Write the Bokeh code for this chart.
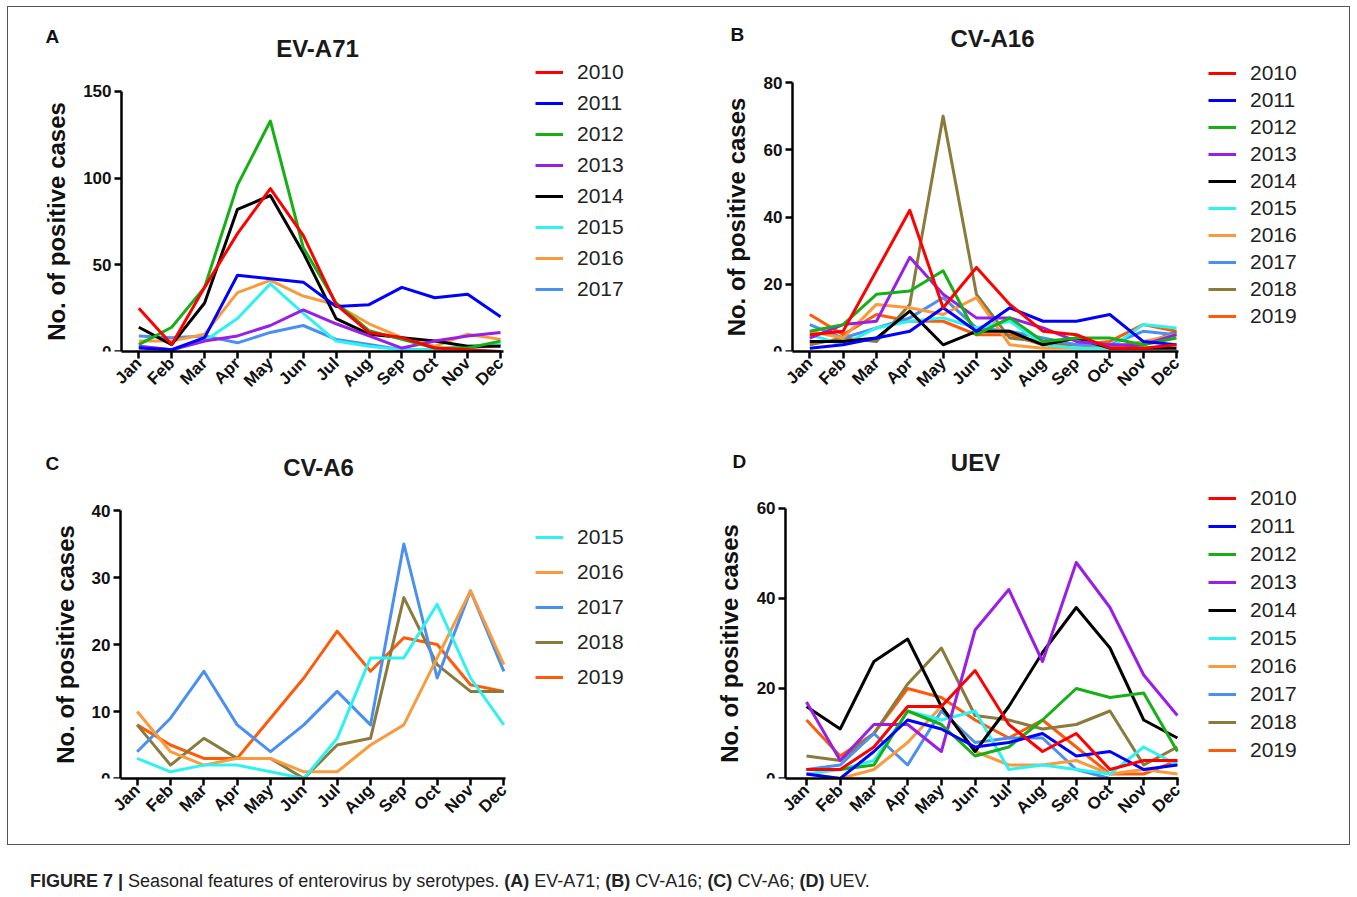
import numpy as np
from bokeh.plotting import figure
from bokeh.models import Range1d, FixedTicker, Legend, LegendItem, Label, Div
from bokeh.layouts import column, row
from bokeh.embed import file_html
from bokeh.resources import INLINE

months = ["Jan", "Feb", "Mar", "Apr", "May", "Jun", "Jul", "Aug", "Sep", "Oct", "Nov", "Dec"]

# Panel A: EV-A71
a_2010 = [25, 4, 37, 68, 94, 67, 27, 11, 8, 2, 1, 0]
a_2011 = [2, 1, 8, 44, 42, 40, 26, 27, 37, 31, 33, 20]
a_2012 = [4, 14, 37, 96, 133, 60, 28, 12, 7, 2, 2, 6]
a_2013 = [3, 1, 6, 9, 15, 24, 16, 9, 2, 6, 9, 11]
a_2014 = [14, 4, 28, 82, 90, 57, 19, 10, 8, 6, 3, 3]
a_2015 = [3, 1, 6, 19, 39, 22, 6, 3, 1, 1, 3, 4]
a_2016 = [6, 6, 10, 34, 41, 32, 27, 16, 8, 3, 10, 7]
a_2017 = [9, 8, 9, 5, 11, 15, 7, 4, 1, 1, 2, 4]

# Panel B: CV-A16
b_2010 = [5, 6, 24, 42, 13, 25, 14, 6, 5, 1, 1, 2]
b_2011 = [1, 2, 4, 6, 13, 6, 13, 9, 9, 11, 3, 2]
b_2012 = [6, 8, 17, 18, 24, 5, 10, 3, 4, 4, 2, 4]
b_2013 = [4, 8, 9, 28, 17, 10, 10, 7, 3, 2, 2, 5]
b_2014 = [3, 3, 4, 12, 2, 6, 6, 2, 4, 1, 1, 1]
b_2015 = [5, 2, 7, 9, 10, 7, 9, 2, 1, 1, 8, 7]
b_2016 = [6, 4, 14, 13, 11, 16, 2, 1, 1, 1, 3, 5]
b_2017 = [8, 4, 7, 10, 16, 7, 6, 4, 2, 2, 6, 5]
b_2018 = [2, 4, 3, 14, 70, 17, 4, 3, 2, 1, 2, 6]
b_2019 = [11, 5, 11, 9, 9, 5, 5, 2, 2, 3, 8, 6]

# Panel C: CV-A6
c_2015 = [3, 1, 2, 2, 1, 0, 6, 18, 18, 26, 15, 8]
c_2016 = [10, 4, 2, 3, 3, 1, 1, 5, 8, 18, 28, 17]
c_2017 = [4, 9, 16, 8, 4, 8, 13, 8, 35, 15, 28, 16]
c_2018 = [8, 2, 6, 3, 3, 0, 5, 6, 27, 17, 13, 13]
c_2019 = [8, 5, 3, 3, 9, 15, 22, 16, 21, 20, 14, 13]

# Panel D: UEV
d_2010 = [2, 2, 7, 16, 16, 24, 12, 6, 10, 2, 4, 4]
d_2011 = [1, 0, 6, 13, 11, 7, 8, 10, 5, 6, 2, 3]
d_2012 = [2, 2, 3, 15, 12, 5, 7, 13, 20, 18, 19, 6]
d_2013 = [17, 4, 12, 12, 6, 33, 42, 26, 48, 38, 23, 14]
d_2014 = [16, 11, 26, 31, 16, 6, 16, 28, 38, 29, 13, 9]
d_2015 = [1, 2, 4, 15, 13, 15, 2, 3, 2, 1, 7, 3]
d_2016 = [1, 0, 2, 8, 16, 6, 3, 3, 4, 1, 2, 1]
d_2017 = [2, 3, 10, 3, 15, 8, 9, 9, 2, 0, 0, 0]
d_2018 = [5, 4, 10, 21, 29, 14, 13, 11, 12, 15, 3, 7]
d_2019 = [13, 5, 10, 20, 18, 13, 9, 13, 7, 1, 1, 4]

year_colors = {
    "2010": "#FF0000", "2011": "#0000FF", "2012": "#16B016", "2013": "#9A1FE6",
    "2014": "#000000", "2015": "#2EF2F2", "2016": "#F99B3D", "2017": "#4A90F0",
    "2018": "#8A7B3C", "2019": "#FF5A0A",
}

FONT = "Liberation Sans"


def make_panel(series, title, letter, ymax, yticks, yend, width, height, borders,
               xr, xaxis_end, leg_loc, leg_spacing, letter_xy, title_xy, ylabel_standoff):
    bl, br, bt, bb = borders
    xstart, xend, ystart_loc = xr
    p = figure(width=width, height=height, output_backend="svg", toolbar_location=None,
               x_range=Range1d(xstart, xend), y_range=Range1d(0, yend),
               min_border_left=bl, min_border_right=br, min_border_top=bt, min_border_bottom=bb)
    p.outline_line_color = None
    p.xgrid.visible = False
    p.ygrid.visible = False
    p.background_fill_color = None
    p.border_fill_color = None

    x = list(range(12))
    items = []
    rends = {}
    for yr, vals in reversed(series):
        r = p.line(x, vals, line_color=year_colors[yr], line_width=3, line_join="round")
        rends[yr] = r
    for yr, vals in series:
        items.append(LegendItem(label=yr, renderers=[rends[yr]]))

    leg = Legend(items=items, location=leg_loc, glyph_width=28, glyph_height=24,
                 label_height=24, label_standoff=14, spacing=leg_spacing, padding=0, margin=0,
                 border_line_color=None, background_fill_alpha=0,
                 label_text_font=FONT, label_text_font_size="21px", label_text_color="#222222")
    p.add_layout(leg, "center")

    for ax in (p.xaxis[0], p.yaxis[0]):
        ax.axis_line_width = 2.5
        ax.axis_line_color = "black"
        ax.major_tick_line_width = 2.5
        ax.major_tick_line_color = "black"
        ax.major_tick_in = 0
        ax.major_tick_out = 7
        ax.minor_tick_line_color = None
        ax.major_label_text_font = FONT
        ax.major_label_text_font_size = "17px"
        ax.major_label_text_font_style = "bold"
        ax.major_label_text_color = "#111111"

    p.xaxis.ticker = FixedTicker(ticks=x)
    p.xaxis.major_label_overrides = {i: m for i, m in enumerate(months)}
    p.xaxis.major_label_orientation = np.pi / 4
    p.xaxis.major_label_standoff = 2
    p.xaxis.bounds = (ystart_loc, xaxis_end)

    p.yaxis.ticker = FixedTicker(ticks=yticks)
    p.yaxis.fixed_location = ystart_loc
    p.yaxis.bounds = (0, ymax)
    p.yaxis.major_label_standoff = 3
    p.yaxis.axis_label = "No. of positive cases"
    p.yaxis.axis_label_text_font = FONT
    p.yaxis.axis_label_text_font_size = "24px"
    p.yaxis.axis_label_text_font_style = "bold"
    p.yaxis.axis_label_text_color = "#111111"
    p.yaxis.axis_label_standoff = ylabel_standoff

    lx, ly = letter_xy
    p.add_layout(Label(x=lx, y=ly, x_units="screen", y_units="screen", text=letter,
                       text_font=FONT, text_font_size="19px", text_font_style="bold",
                       text_color="#111111", text_baseline="alphabetic"))
    tx, ty = title_xy
    p.add_layout(Label(x=tx, y=ty, x_units="screen", y_units="screen", text=title,
                       text_font=FONT, text_font_size="24px", text_font_style="bold",
                       text_color="#1a1a1a", text_align="center", text_baseline="alphabetic"))
    return p


pA = make_panel([("2010", a_2010), ("2011", a_2011), ("2012", a_2012), ("2013", a_2013),
                 ("2014", a_2014), ("2015", a_2015), ("2016", a_2016), ("2017", a_2017)],
                "EV-A71", "A", 150, [0, 50, 100, 150], 190.96, 671, 419, (18, 28, 14, 74),
                (-3.446, 15.56, -0.526), 11.09, (510, 50), 7, (20, 315), (292, 303), 10)

pB = make_panel([("2010", b_2010), ("2011", b_2011), ("2012", b_2012), ("2013", b_2013),
                 ("2014", b_2014), ("2015", b_2015), ("2016", b_2016), ("2017", b_2017),
                 ("2018", b_2018), ("2019", b_2019)],
                "CV-A16", "B", 80, [0, 20, 40, 60, 80], 98.44, 672, 419, (22, 20, 14, 74),
                (-3.278, 15.62, -0.52), 11.06, (508, 23), 3, (30, 317), (292, 313), 11)

pC = make_panel([("2015", c_2015), ("2016", c_2016), ("2017", c_2017), ("2018", c_2018),
                 ("2019", c_2019)],
                "CV-A6", "C", 40, [0, 10, 20, 30, 40], 50.45, 671, 420, (18, 28, 15, 67),
                (-3.351, 15.40, -0.5), 11.05, (510, 89), 11, (20, 315), (293, 311), 10)

pD = make_panel([("2010", d_2010), ("2011", d_2011), ("2012", d_2012), ("2013", d_2013),
                 ("2014", d_2014), ("2015", d_2015), ("2016", d_2016), ("2017", d_2017),
                 ("2018", d_2018), ("2019", d_2019)],
                "UEV", "D", 60, [0, 20, 40, 60], 75.11, 672, 420, (22, 20, 15, 67),
                (-3.143, 15.54, -0.62), 11.03, (508, 16), 4, (32, 317), (275, 316), 11)

cap = Div(text=('<div style="font-family:\'Liberation Sans\';font-size:18px;color:#222;'
                'padding-left:25px;padding-top:19px;white-space:nowrap">'
                '<b>FIGURE 7 |</b> Seasonal features of enterovirus by serotypes. '
                '<b>(A)</b> EV-A71; <b>(B)</b> CV-A16; <b>(C)</b> CV-A6; <b>(D)</b> UEV.</div>'),
          width=1341, height=44)

grid = column(row(pA, pB), row(pC, pD), margin=(6, 0, 0, 7),
              styles={"outline": "1.5px solid #555555", "outline-offset": "-1px"})
layout = column(grid, cap)
open("out.html", "w").write(file_html(layout, INLINE))
